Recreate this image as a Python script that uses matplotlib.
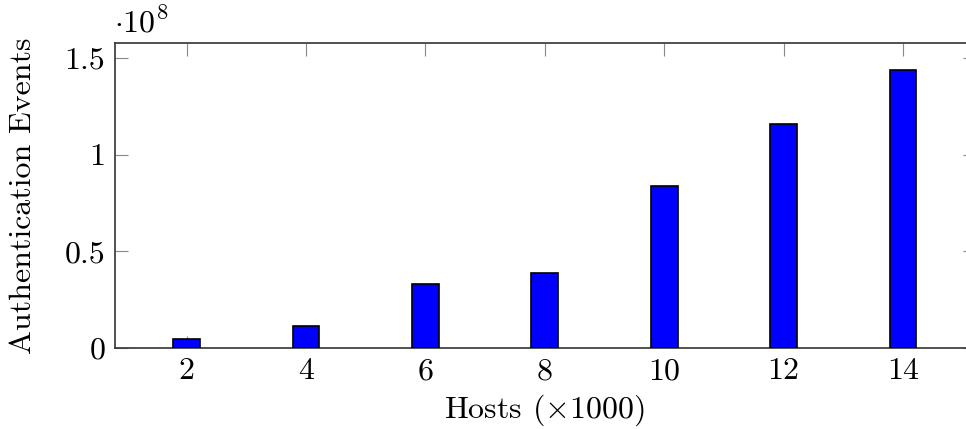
import matplotlib
matplotlib.use("Agg")
import matplotlib.pyplot as plt

hosts = [2, 4, 6, 8, 10, 12, 14]
events = [0.047e8, 0.114e8, 0.331e8, 0.388e8, 0.838e8, 1.157e8, 1.438e8]
ytick_vals = [0, 0.5e8, 1.0e8, 1.5e8]
ytick_labels = ["0", "0.5", "1", "1.5"]

plt.rcParams['font.family'] = 'serif'
plt.rcParams['font.serif'] = ['cmr10']
plt.rcParams['mathtext.fontset'] = 'cm'
plt.rcParams['axes.formatter.use_mathtext'] = True

fig = plt.figure(figsize=(9.66, 4.29), dpi=100)
W, H = 966, 429
left, right, top, bottom = 115, 974.6, 42.7, 348
ax = fig.add_axes([left / W, 1 - bottom / H, (right - left) / W, (bottom - top) / H])

ax.bar(hosts, events, width=0.45, color='#0000ff', edgecolor='black', linewidth=1.2, zorder=3)
ax.set_xlim(0.8, 15.2)
ax.set_ylim(0, 1.579e8)
ax.set_xticks(hosts)
ax.set_xticklabels([str(h) for h in hosts])
ax.set_yticks(ytick_vals)
ax.set_yticklabels(ytick_labels)
ax.tick_params(direction='in', length=9, width=0.8, color='#888888', labelsize=23,
               top=True, right=True, pad=7)
for s in ax.spines.values():
    s.set_linewidth(1.2)
    s.set_color('#333333')

ax.set_xlabel(r"Hosts ($\times$1000)", fontsize=23, labelpad=5)
ax.set_ylabel("Authentication Events", fontsize=23, labelpad=20)
fig.text(114 / W, 1 - 22 / H, r"$\cdot 10^{8}$", fontsize=23, ha='left', va='center')

fig.savefig("out.png", dpi=100)
